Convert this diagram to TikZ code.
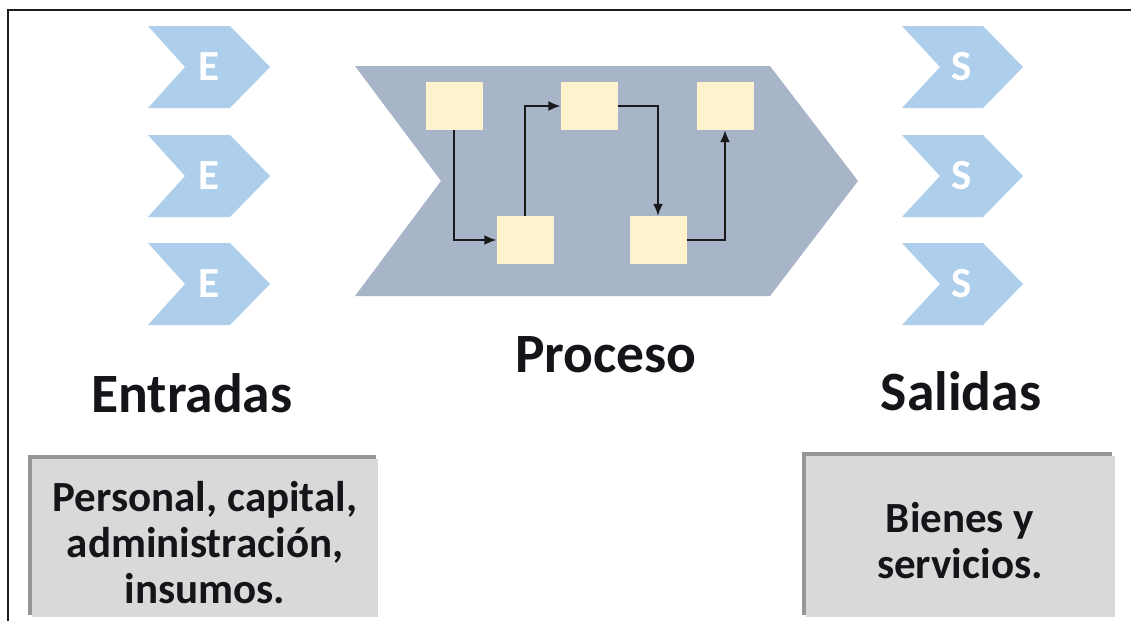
\documentclass[tikz,border=0pt]{standalone}
\usepackage{fontspec}
\setmainfont{Carlito}
\usetikzlibrary{arrows.meta}
\definecolor{chevblue}{RGB}{174,207,236}
\definecolor{procgray}{RGB}{168,180,200}
\definecolor{cream}{RGB}{255,242,204}
\definecolor{boxgray}{RGB}{217,217,217}
\definecolor{shadowgray}{RGB}{150,150,150}
\definecolor{textdark}{RGB}{20,20,25}
\definecolor{framegray}{RGB}{30,30,30}
\begin{document}
\begin{tikzpicture}[x=1pt,y=-1pt,
  smallchev/.style={fill=chevblue},
  letter/.style={text=white,font=\bfseries\fontsize{43}{43}\selectfont,inner sep=0pt},
  procbox/.style={fill=cream,minimum width=57pt,minimum height=48pt,inner sep=0pt},
  flow/.style={-{Latex[length=12pt,width=10pt]},line width=1.8pt,draw=black!90},
  heading/.style={font=\bfseries\fontsize{55.5}{55.5}\selectfont,inner sep=0pt,anchor=base,text=textdark},
  body/.style={font=\bfseries\fontsize{43}{46}\selectfont,align=center,text=textdark,inner sep=0pt},
]
\useasboundingbox (0,0) rectangle (1131,621);
\fill[white] (0,0) rectangle (1131,621);
\draw[line width=2pt,framegray] (8,621) -- (8,10) -- (1131,10);

% input chevrons
\foreach \c/\n in {67/1,176/2,284/3}{
  \fill[smallchev] (148,{\c-41}) -- (230,{\c-41}) -- (270,\c) -- (230,{\c+41}) -- (148,{\c+41}) -- (185,\c) -- cycle;
  \node[letter] (e\n) at (209,\c) {E};
}
% output chevrons
\foreach \c/\n in {67/1,176/2,284/3}{
  \fill[smallchev] (902,{\c-41}) -- (983,{\c-41}) -- (1023,\c) -- (983,{\c+41}) -- (902,{\c+41}) -- (940,\c) -- cycle;
  \node[letter] (s\n) at (962,\c) {S};
}

% process chevron
\fill[procgray] (355,66) -- (770,66) -- (858,181) -- (770,296) -- (355,296) -- (441,181) -- cycle;

\node[procbox] (b1) at (454,106) {};
\node[procbox] (b2) at (525,240) {};
\node[procbox] (b3) at (589,106) {};
\node[procbox] (b4) at (658,240) {};
\node[procbox] (b5) at (725,106) {};

\draw[flow] (b1.south) |- (b2.west);
\draw[flow] (b2.north) |- (b3.west);
\draw[flow] (b3.east) -| (b4.north);
\draw[flow] (b4.east) -| (b5.south);

% headings
\node[heading] (entradas) at (192,412) {Entradas};
\node[heading] (proceso) at (606,372) {Proceso};
\node[heading] (salidas) at (961,410) {Salidas};

% bottom boxes
\fill[shadowgray] (28,455) rectangle (376,615);
\fill[boxgray] (32,459) rectangle (378,617);
\node[body] (inputs) at (205,543) {Personal, capital,\\administración,\\insumos.};

\fill[shadowgray] (802,452) rectangle (1112,615);
\fill[boxgray] (806,456) rectangle (1115,617);
\node[body] (outputs) at (960,541) {Bienes y\\servicios.};
\end{tikzpicture}
\end{document}
